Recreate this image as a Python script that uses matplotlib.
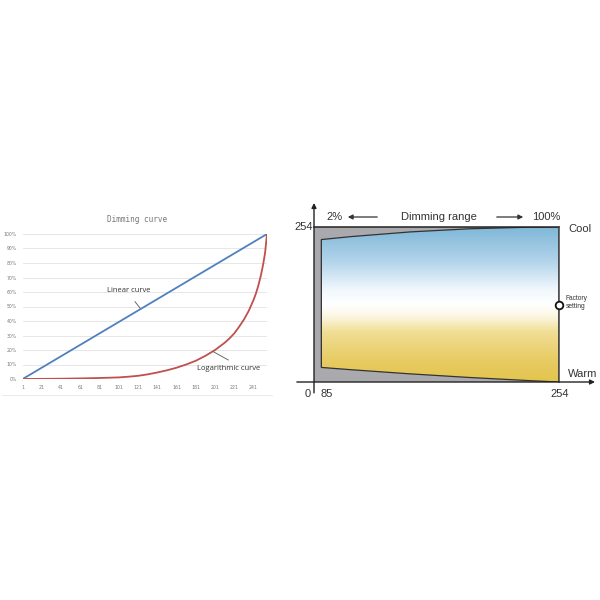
import numpy as np
import matplotlib
matplotlib.use("Agg")
import matplotlib.pyplot as plt
from matplotlib.path import Path
from matplotlib.patches import PathPatch, Rectangle, FancyArrowPatch
from matplotlib.colors import LinearSegmentedColormap

# ---------------- data ----------------
x_ticks = [1, 21, 41, 61, 81, 101, 121, 141, 161, 181, 201, 221, 241]
y_ticks = [0, 0.1, 0.2, 0.3, 0.4, 0.5, 0.6, 0.7, 0.8, 0.9, 1.0]
y_tick_labels = ["0%", "10%", "20%", "30%", "40%", "50%", "60%", "70%", "80%", "90%", "100%"]
linear_x = [1, 255]
linear_y = [0.0, 1.0]
log_x = [1, 21, 41, 61, 81, 101, 111, 121, 131, 141, 151, 161, 171, 181, 191, 201, 206, 211,
         216, 221, 226, 231, 236, 241, 243.5, 246, 248.5, 251, 253, 255]
log_y = [0.0, 0.001, 0.002, 0.004, 0.007, 0.011, 0.016, 0.022, 0.032, 0.045, 0.06, 0.078, 0.10,
         0.126, 0.16, 0.20, 0.225, 0.25, 0.28, 0.315, 0.36, 0.41, 0.47, 0.545, 0.59, 0.645,
         0.71, 0.79, 0.87, 1.0]

right_tick_pos = [0.0, 0.03, 1.0]
right_tick_labels = ["0", "85", "254"]

W = H = 600
fig = plt.figure(figsize=(6, 6), dpi=100)
fig.patch.set_facecolor("white")

def fx(px):
    return px / W

def fy(py):
    return 1 - py / H

# ---------------- left chart ----------------
ax = fig.add_axes([fx(22.7), fy(379), fx(267) - fx(22.7), (379 - 234) / H])
ax.set_xlim(1, 255)
ax.set_ylim(0, 1)
for yv in y_ticks:
    ax.axhline(yv, color="#e3e3e3", lw=0.6, zorder=0)
ax.plot(linear_x, linear_y, color="#4f81bd", lw=1.3, zorder=3, solid_capstyle="round")
ax.plot(log_x, log_y, color="#c0504d", lw=1.3, zorder=3, solid_joinstyle="round")
for s in ax.spines.values():
    s.set_visible(False)
ax.set_xticks(x_ticks)
ax.set_xticklabels([str(v) for v in x_ticks])
ax.set_yticks(y_ticks)
ax.set_yticklabels(y_tick_labels)
ax.tick_params(length=0, labelsize=3.3, colors="#777777", pad=4)
ax.set_facecolor("none")

fig.text(fx(137.3), fy(220), "Dimming curve", ha="center", va="center",
         fontsize=5.5, color="#777777", family="DejaVu Sans Mono")
fig.text(fx(128.3), fy(290), "Linear curve", ha="center", va="center",
         fontsize=5.5, color="#333333", family="Open Sans")
fig.text(fx(228.7), fy(368.3), "Logarithmic curve", ha="center", va="center",
         fontsize=5.5, color="#333333", family="Open Sans")
fig.add_artist(plt.Line2D([fx(135), fx(140)], [fy(301.7), fy(308)], color="#555555", lw=0.6))
fig.add_artist(plt.Line2D([fx(213.3), fx(228.3)], [fy(351.7), fy(360)], color="#555555", lw=0.6))
fig.add_artist(plt.Line2D([fx(2), fx(272)], [fy(395), fy(395)], color="#e6e6e6", lw=0.6))

# ---------------- right chart ----------------
ax2 = fig.add_axes([fx(314), fy(382), 245 / W, 155 / H])
ax2.set_xlim(0, 1)
ax2.set_ylim(0, 1)
ax2.axis("off")

# grey background
ax2.add_patch(Rectangle((0, 0), 1, 1, facecolor="#a9a9ae", edgecolor="none", zorder=1))

# inner shape
xl = right_tick_pos[1]
verts = [(xl, 0.094), (xl, 0.919), (0.515, 1.0), (1.0, 1.0), (1.0, 0.0),
         (0.5, 0.035), (xl, 0.094), (xl, 0.094)]
codes = [Path.MOVETO, Path.LINETO, Path.CURVE3, Path.CURVE3, Path.LINETO,
         Path.CURVE3, Path.CURVE3, Path.CLOSEPOLY]
shape = Path(verts, codes)
cmap = LinearSegmentedColormap.from_list("cw", [
    (0.0, (0.89, 0.77, 0.30)),
    (0.15, (0.91, 0.80, 0.40)),
    (0.32, (0.94, 0.87, 0.58)),
    (0.43, (0.99, 0.97, 0.90)),
    (0.50, (1.0, 1.0, 1.0)),
    (0.60, (0.94, 0.97, 0.99)),
    (0.78, (0.70, 0.83, 0.92)),
    (1.0, (0.50, 0.72, 0.85)),
])
grad = np.linspace(0, 1, 256).reshape(-1, 1)
im = ax2.imshow(grad, extent=[0, 1, 0, 1], origin="lower", aspect="auto", cmap=cmap, zorder=2)
patch = PathPatch(shape, facecolor="none", edgecolor="#333333", lw=0.9, zorder=3)
ax2.add_patch(patch)
im.set_clip_path(patch)

# borders
ax2.plot([0, 1], [1, 1], color="#222222", lw=1.1, zorder=4, clip_on=False)
ax2.plot([1, 1], [0, 1], color="#444444", lw=1.1, zorder=4, clip_on=False)

# axes with arrows
ax2.annotate("", xy=(0, 1.155), xytext=(0, -0.07), annotation_clip=False,
             arrowprops=dict(arrowstyle="-|>", color="#222222", lw=1.0,
                             mutation_scale=7, shrinkA=0, shrinkB=0), zorder=5)
ax2.annotate("", xy=(1.147, 0), xytext=(-0.07, 0), annotation_clip=False,
             arrowprops=dict(arrowstyle="-|>", color="#222222", lw=1.0,
                             mutation_scale=7, shrinkA=0, shrinkB=0), zorder=5)

# factory setting marker
ax2.plot([1.0], [0.50], marker="o", ms=5.5, mfc="white", mec="#111111", mew=1.3,
         zorder=6, clip_on=False)

tf = dict(family="Liberation Sans", color="#333333")
fig.text(fx(308), fy(394), right_tick_labels[0], ha="center", va="center", fontsize=8, **tf)
fig.text(fx(327), fy(394), right_tick_labels[1], ha="center", va="center", fontsize=8, **tf)
fig.text(fx(560), fy(394), right_tick_labels[2], ha="center", va="center", fontsize=8, **tf)
fig.text(fx(303.5), fy(227), right_tick_labels[2], ha="center", va="center", fontsize=8, **tf)
fig.text(fx(568), fy(229), "Cool", ha="left", va="center", fontsize=8, **tf)
fig.text(fx(568), fy(374), "Warm", ha="left", va="center", fontsize=8, **tf)
fig.text(fx(334.5), fy(217), "2%", ha="center", va="center", fontsize=8, **tf)
fig.text(fx(439), fy(217), "Dimming range", ha="center", va="center", fontsize=8, **tf)
fig.text(fx(546), fy(217), "100%", ha="center", va="center", fontsize=8, **tf)
fig.text(fx(565.5), fy(303), "Factory\nsetting", ha="left", va="center", fontsize=4.8,
         linespacing=1.2, **tf)
fig.add_artist(FancyArrowPatch(
    (fx(380), fy(217)), (fx(345), fy(217)), transform=fig.transFigure,
    arrowstyle="-|>", mutation_scale=7, color="#333333", lw=0.9))
fig.add_artist(FancyArrowPatch(
    (fx(494), fy(217)), (fx(526), fy(217)), transform=fig.transFigure,
    arrowstyle="-|>", mutation_scale=7, color="#333333", lw=0.9))

fig.savefig("out.png", dpi=100, facecolor="white")
